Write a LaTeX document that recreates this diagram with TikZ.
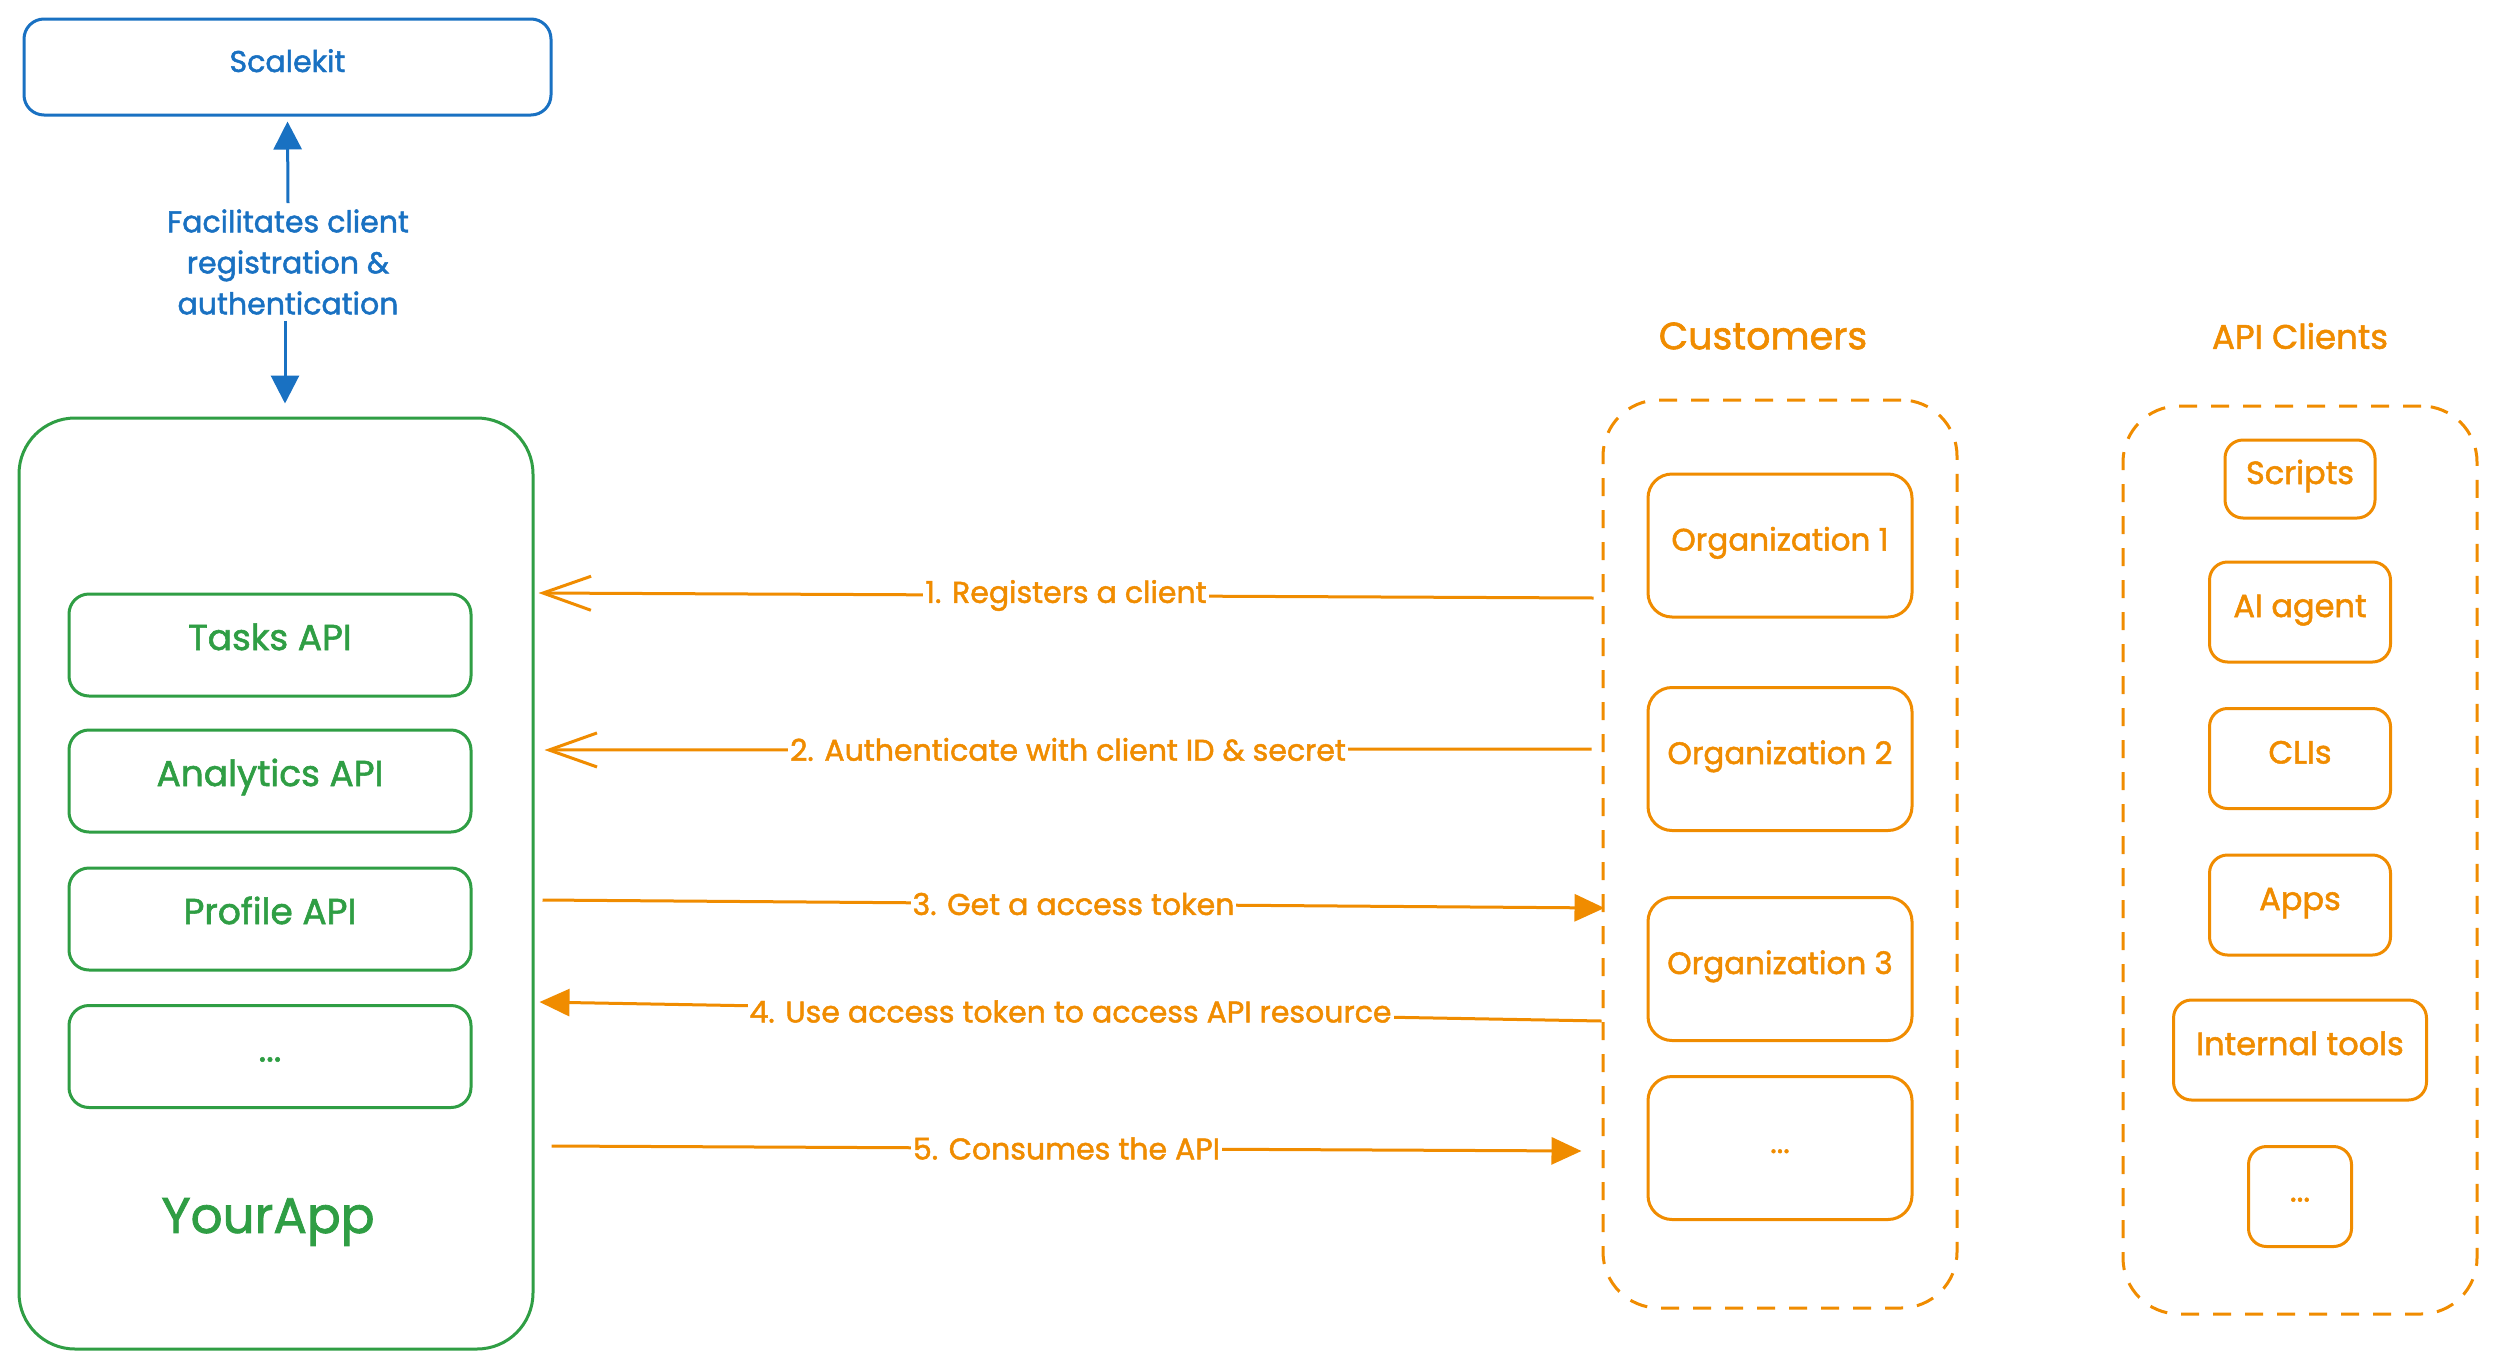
\documentclass[tikz,border=0pt]{standalone}
\usepackage{fontspec}
\setmainfont{Poppins}[FakeBold=1.6]
\usetikzlibrary{arrows.meta,calc}
\definecolor{exblue}{HTML}{1971C2}
\definecolor{exgreen}{HTML}{2F9E44}
\definecolor{exorange}{HTML}{F08C00}
\begin{document}
\begin{tikzpicture}[x=0.5pt,y=-0.5pt,
  every node/.style={inner sep=0pt},
  skbox/.style={draw=exblue, line width=1.5pt, rounded corners=10pt, text=exblue,
    font=\fontsize{15}{18}\selectfont, text height=0.75em, text depth=0.25em},
  outerbox/.style={draw=exgreen, line width=1.5pt, rounded corners=28pt},
  gbox/.style={draw=exgreen, line width=1.5pt, rounded corners=10pt, text=exgreen,
    font=\fontsize{18}{22}\selectfont, minimum width=201pt, minimum height=51pt,
    text height=0.75em, text depth=0.25em},
  dbox/.style={draw=exorange, line width=1.5pt, rounded corners=28pt, dash pattern=on 9pt off 7pt},
  orgbox/.style={draw=exorange, line width=1.5pt, rounded corners=12pt, text=exorange,
    font=\fontsize{15.5}{19}\selectfont, minimum width=132pt, minimum height=71.5pt,
    text height=0.75em, text depth=0.25em},
  clbox/.style={draw=exorange, line width=1.5pt, rounded corners=9pt, text=exorange,
    font=\fontsize{16}{19}\selectfont, minimum height=50pt,
    text height=0.75em, text depth=0.25em},
  otitle/.style={text=exorange},
  flowlab/.style={fill=white, text=exorange, font=\fontsize{15}{18}\selectfont, inner xsep=1pt, inner ysep=3pt},
  oarr/.style={draw=exorange, line width=1.5pt},
  barbtip/.style={-{Straight Barb[length=24pt,width=17pt,line width=1.5pt]}},
  filltip/.style={-{Triangle[length=15pt,width=13.5pt]}},
  barr/.style={draw=exblue, line width=1.5pt, -{Triangle[length=14pt,width=14pt]}}
]
\useasboundingbox (0,0) rectangle (2494,1365);
\fill[white] (0,0) rectangle (2494,1365);

% Scalekit
\node[skbox, minimum width=263.5pt, minimum height=48pt] (sk) at (287.5,67) {Scalekit};

% YourApp
\node[outerbox, minimum width=257pt, minimum height=465.5pt] (app) at (276,883.5) {};
\node[gbox] (tasks) at (270,645) {Tasks API};
\node[gbox] (analytics) at (270,781) {Analytics API};
\node[gbox] (profile) at (270,919) {Profile API};
\node[gbox] (apimore) at (270,1056.5) {...};
\node[text=exgreen, font=\fontsize{25}{28}\selectfont] (appname) at (268,1222) {YourApp};

% Scalekit <-> YourApp
\node[text=exblue, font=\fontsize{15}{20.5}\selectfont, align=center, inner sep=3pt] (fac) at (288,262)
  {Facilitates client\\registration \&\\authentication};
\draw[barr] (fac.north) -- ($(sk.south)+(0,5)$);
\draw[barr] ($(fac.south)+(-3,0)$) -- ($(fac.south |- app.north)+(-3,-13)$);

% Customers
\node[otitle, font=\fontsize{19}{22}\selectfont] (custtitle) at (1763,336) {Customers};
\node[dbox, minimum width=177pt, minimum height=454pt] (cust) at (1780,854) {};
\node[orgbox] (org1) at (1780,545.5) {Organization 1};
\node[orgbox] (org2) at (1780,759) {Organization 2};
\node[orgbox] (org3) at (1780,969) {Organization 3};
\node[orgbox] (orgmore) at (1780,1148) {...};

% API Clients
\node[otitle, font=\fontsize{17}{20}\selectfont] (cltitle) at (2300,336) {API Clients};
\node[dbox, minimum width=177pt, minimum height=454pt] (clients) at (2300,860) {};
\node[clbox, minimum width=75pt, minimum height=39pt] (scripts) at (2300,479) {Scripts};
\node[clbox, minimum width=90.5pt] (agent) at (2300,612) {AI agent};
\node[clbox, minimum width=90.5pt] (clis) at (2300,758.5) {CLIs};
\node[clbox, minimum width=90.5pt] (apps) at (2300,905) {Apps};
\node[clbox, minimum width=126.5pt] (internal) at (2300,1050) {Internal tools};
\node[clbox, minimum width=51.5pt] (clmore) at (2300,1196.5) {...};

% Flow arrows
\draw[oarr, barbtip] ($(cust.west |- 0,598)+(-8,0)$) -- node[flowlab]{1. Registers a client} ($(app.east |- 0,593)+(4,0)$);
\draw[oarr, barbtip] ($(cust.west |- 0,749)+(-10,0)$) -- node[flowlab]{2. Authenticate with client ID \& secret} ($(app.east |- 0,750)+(10,0)$);
\draw[oarr, filltip] ($(app.east |- 0,900)+(8,0)$) -- node[flowlab]{3. Get a access token\hspace{6pt}} ($(cust.west |- 0,908)+(3,0)$);
\draw[oarr, filltip] ($(cust.west |- 0,1021)+(0,0)$) -- node[flowlab]{4. Use access token to access API resource} ($(app.east |- 0,1002)+(5,0)$);
\draw[oarr, filltip] ($(app.east |- 0,1146)+(17,0)$) -- node[flowlab]{5. Consumes the API} ($(cust.west |- 0,1151)+(-20,0)$);
\end{tikzpicture}
\end{document}
